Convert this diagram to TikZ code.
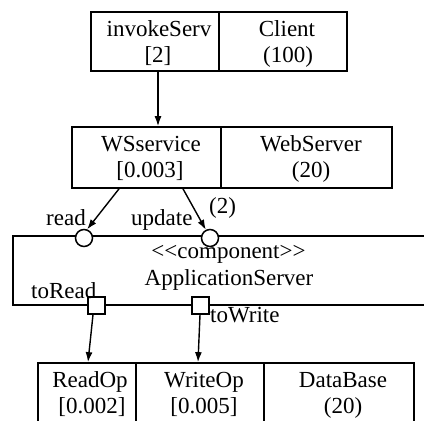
\documentclass[tikz,border=0pt]{standalone}
\usepackage{fontspec}
\setmainfont{Liberation Serif}
\usetikzlibrary{arrows.meta}
\begin{document}
\begin{tikzpicture}[x=1pt,y=-1pt, font=\fontsize{23}{26}\selectfont,
  box/.style={draw, line width=1.7pt, rectangle, inner sep=0pt},
  port/.style={draw, line width=1.5pt, fill=white, circle, minimum size=17pt, inner sep=0pt},
  sqport/.style={draw, line width=1.5pt, fill=white, rectangle, minimum size=17pt, inner sep=0pt},
  arr/.style={line width=1.4pt, -{Latex[length=10pt,width=7pt]}},
  lbl/.style={inner sep=0pt, anchor=base west},
  ctr/.style={inner sep=0pt, anchor=base}]
\useasboundingbox (0,0) rectangle (424,421);
\clip (0,0) rectangle (424,421);
% top boxes
\node[box, minimum width=128pt, minimum height=59pt] (inv) at (155,41.5) {};
\node[box, minimum width=128pt, minimum height=59pt] (cli) at (283,41.5) {};
\node[ctr] (invt1) at (159,36) {invokeServ};
\node[ctr] (invt2) at (158,62) {[2]};
\node[ctr] (clit1) at (287,36) {Client};
\node[ctr] (clit2) at (288,62) {(100)};
% web server
\node[box, minimum width=149pt, minimum height=61pt] (ws) at (146.5,157.5) {};
\node[box, minimum width=171pt, minimum height=61pt] (web) at (306.5,157.5) {};
\node[ctr] (wst1) at (151,151) {WSservice};
\node[ctr] (wst2) at (150,177) {[0.003]};
\node[ctr] (webt1) at (311,151) {WebServer};
\node[ctr] (webt2) at (311,177) {(20)};
% component
\node[box, minimum width=427pt, minimum height=69pt] (comp) at (226.5,270.5) {};
\node[ctr] (stereo) at (228.5,258.5) {<\kern0pt<component>\kern0pt>};
\node[ctr] (compname) at (229,285) {ApplicationServer};
\node[port] (cr) at (84,238) {};
\node[port] (cu) at (210,238) {};
\node[sqport] (sr) at (96.5,305.5) {};
\node[sqport] (sw) at (200.5,305.5) {};
\node[lbl] (lread) at (46,225) {read};
\node[lbl] (lupd) at (131,225) {update};
\node[lbl] (lmul) at (209,213) {(2)};
\node[lbl] (ltr) at (31,298) {toRead};
\node[lbl] (ltw) at (210,322) {toWrite};
% database
\node[box, minimum width=98pt, minimum height=87pt] (rd) at (87,406.5) {};
\node[box, minimum width=128pt, minimum height=87pt] (wr) at (200,406.5) {};
\node[box, minimum width=150pt, minimum height=87pt] (db) at (339,406.5) {};
\node[ctr] (rdt1) at (90,387) {ReadOp};
\node[ctr] (rdt2) at (92,413) {[0.002]};
\node[ctr] (wrt1) at (204,387) {WriteOp};
\node[ctr] (wrt2) at (204,413) {[0.005]};
\node[ctr] (dbt1) at (343,387) {DataBase};
\node[ctr] (dbt2) at (343,413) {(20)};
% connectors
\draw[arr] ([xshift=3pt]inv.south) -- ([xshift=11.5pt]ws.north);
\draw[arr] ([xshift=-27.5pt]ws.south) -- (cr.70);
\draw[arr] ([xshift=36.5pt]ws.south) -- (cu.117);
\draw[arr] ([xshift=-3.5pt]sr.south) -- ([xshift=1pt]rd.north);
\draw[arr] ([xshift=-0.5pt]sw.south) -- ([xshift=-2pt]wr.north);
\end{tikzpicture}
\end{document}
